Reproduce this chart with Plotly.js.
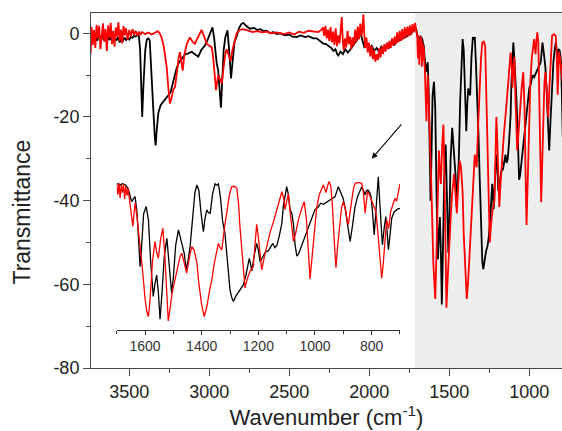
<!DOCTYPE html>
<html>
<head>
<meta charset="utf-8">
<script src="https://cdn.plot.ly/plotly-3.0.1.min.js"></script>
<style>html,body{margin:0;padding:0;background:#fff;}#chart{width:562px;height:431px;}</style>
</head>
<body>
<div id="chart"></div>
<script>
// Black spectrum: [wavenumber (cm-1), transmittance]
const blackSpectrum = [
[3740,-0.3],[3732,-1.2],[3724,0.2],[3716,-1.5],[3708,-0.4],[3700,-1.8],[3690,-0.6],[3680,-1.4],[3670,-0.2],[3660,-1.6],
[3650,-0.8],[3640,-2.0],[3630,-1.0],[3620,-1.6],[3610,-0.7],[3600,-1.9],[3590,-1.1],[3580,-1.7],[3570,-0.9],[3560,-2.2],
[3550,-1.3],[3540,-1.8],[3530,-1.0],[3520,-1.6],[3510,-1.2],[3500,-1.5],[3490,-0.9],[3480,-1.1],[3470,-0.6],[3460,-0.8],
[3450,-0.4],[3440,-0.6],[3432,-4],[3425,-14],[3419,-20],[3412,-13],[3400,-4],[3390,-1.5],[3380,-1.2],[3372,-1.7],
[3362,-8],[3350,-18],[3340,-25],[3335,-26.8],[3328,-23],[3318,-19],[3304,-17.2],[3290,-16.4],[3272,-15.6],[3256,-14.8],
[3241,-14],[3225,-11.5],[3205,-8.5],[3190,-7],[3172,-6],[3150,-5],[3130,-4.8],[3110,-4.4],[3090,-5],[3069,-5.6],
[3050,-4],[3027,-2.9],[3010,-1.5],[2996,0],[2980,1.4],[2970,-1],[2960,-5],[2954,-7],[2944,-9],[2938,-13],
[2932,-17],[2927,-17.8],[2920,-12],[2910,-4],[2900,-1],[2886,0.7],[2876,-4],[2868,-10],[2864,-10.8],[2855,-7],
[2842,-2],[2829,-0.8],[2815,1.2],[2800,2.2],[2787,2.5],[2770,1.8],[2746,1.1],[2720,1.3],[2700,0.8],[2680,1.0],
[2660,0.5],[2641,0.6],[2621,0],[2600,0.3],[2580,-0.2],[2558,0],[2530,-0.5],[2500,-0.3],[2480,-0.8],[2454,-0.9],
[2430,-0.5],[2400,-0.9],[2380,-0.7],[2350,-1.2],[2329,-1.2],[2310,-1.8],[2290,-2.4],[2270,-2.6],[2250,-3.2],[2235,-3.6],
[2225,-4.2],[2212,-3.8],[2200,-5],[2194,-5.3],[2180,-4.4],[2165,-5],[2150,-3.8],[2135,-4.6],[2121,-4],[2105,-3.2],
[2090,-2.2],[2075,-1.5],[2058,0.5],[2045,-1.5],[2030,-3.5],[2015,-2.4],[2000,-3.8],[1985,-3],[1970,-4.2],[1954,-3.5],
[1940,-4.4],[1925,-3.2],[1910,-3.8],[1891,-2.8],[1875,-3.4],[1860,-2.4],[1845,-2.8],[1829,-2],[1810,-1.6],[1790,-1.2],
[1770,-0.9],[1750,-0.4],[1725,0.5],[1708,1.2],
[1700,-0.6],[1690,-1.6],[1680,-0.8],[1670,-1.3],[1660,-3],[1652,-6.5],[1647,-9.3],[1641,-8],[1635,-6.9],[1628,-15],
[1622,-30],[1617.5,-40],[1612,-30],[1605,-15],[1596,-11.6],[1588,-18],[1580,-38],[1571,-54],[1565,-48],[1559,-43.9],
[1553,-52],[1547,-64.8],[1540,-52],[1532,-35],[1523,-26.6],[1515,-38],[1506,-52.5],[1500,-45],[1492,-30],[1482,-22.6],
[1474,-27],[1467,-30.5],[1461,-34],[1455,-41.5],[1448,-37],[1441,-30.5],[1432,-16],[1424,-5],[1417,-1.4],[1410,-4],
[1402,-15],[1394,-23.4],[1388,-17],[1382,-13.2],[1376,-14.5],[1370,-14.8],[1362,-6],[1353,-0.9],[1347,-1.5],[1341,-0.9],
[1334,-7],[1326,-18.7],[1318,-24],[1311,-33.6],[1305,-42],[1300,-51],[1294,-54.5],[1288,-56.4],[1280,-54],[1270,-52],
[1262,-51],[1253,-48.6],[1244,-44],[1238,-40],[1232,-36],[1227,-39],[1223,-42],[1215,-35],[1206,-29],[1200,-32],
[1194,-37.6],[1185,-35.5],[1175,-33],[1165,-32.5],[1158,-31],[1149,-29],[1142,-31],[1135,-30],[1127,-26],[1117,-19.5],
[1112,-11.6],[1106,-6],[1100,-2.2],[1094,-6],[1088,-13],[1082,-14.7],[1076,-20],[1070,-30],[1064,-35],[1058,-34],
[1050,-31],[1035,-26],[1020,-20],[1000,-13],[990,-12],[980,-10],[970,-10.5],[964,-10],[950,-9],[940,-8],
[929,-6.9],[922,-4],[918,-2.2],[912,-4],[906,-6],[900,-8],[893,-13],[885,-20],[876,-28],[868,-21],
[859,-12],[850,-7],[842,-4],[835,-2.2],[829,-4],[823,-6],[818,-4],[813,-3.8],[807,-5],[802,-7],
[797,-14],[791,-25],[785,-14],[780,-2],[776.5,2.5],[772,-8],[767,-20],[762,-29.7],[756,-22],[750,-16.3],
[745,-24],[741,-32],[736,-26],[729,-17],[720,-14],[712,-13],[706,-12.6],[700,-12.6]
];

// Red spectrum: [wavenumber (cm-1), transmittance]
const redSpectrum = [
[3741,-4.9],[3735,1.5],[3728,-2.8],[3720,0.8],[3712,-3.5],[3704,2],[3696,-1.2],[3688,1.8],[3680,-3.8],[3672,0.5],
[3664,2.4],[3656,-2],[3648,1],[3640,-4.2],[3632,1.9],[3624,-1],[3616,2.5],[3608,-2.6],[3600,0.6],[3592,-3.2],
[3584,1.4],[3576,-0.8],[3568,2.6],[3560,-1.8],[3552,0.9],[3544,-2.4],[3536,1.7],[3528,-0.5],[3520,1.2],[3510,-1.5],
[3500,0.8],[3490,-0.8],[3480,1.0],[3470,-0.3],[3460,0.6],[3450,-0.5],[3440,0.4],[3430,-0.4],[3420,0.3],[3400,-0.2],
[3380,0.2],[3360,-0.3],[3340,0.2],[3321,0.5],[3310,0],[3298,-1],[3285,-3],[3274,-5.5],[3266,-8],[3256,-13],
[3246,-16.8],[3236,-15.5],[3225,-13.5],[3214,-12.8],[3200,-8],[3190,-5.5],[3183,-4.5],[3175,-6.5],[3166,-8.9],[3155,-5],
[3140,-2.5],[3121,-1],[3105,-2],[3090,-2.5],[3070,-1],[3048,0.8],[3030,-1],[3016,-2.5],[3000,-3],[2985,-3.3],
[2975,-6],[2965,-11],[2958,-13.6],[2950,-11.5],[2944,-10],[2932,-11],[2922,-12],[2910,-8],[2900,-5],[2891,-3.8],
[2880,-5],[2866,-6.6],[2855,-4],[2840,-1.5],[2829,0],[2810,0.8],[2789,1],[2760,0.7],[2730,0.3],[2700,0.5],
[2670,0.2],[2640,0.4],[2610,0],[2580,0.2],[2558,0],[2530,-0.2],[2500,0.2],[2470,-0.3],[2440,0.4],[2410,0.1],
[2380,0.6],[2350,0.5],[2320,0.3],
[2300,0.8],[2290,1.4],[2282,-0.6],[2274,1.8],[2266,-1.2],[2258,0.9],[2250,-1.8],[2242,1.5],[2234,-2.2],[2226,0.4],
[2218,-2.8],[2210,1.2],[2202,-3.1],[2194,-0.5],[2186,-2.4],[2178,1.0],[2172,3.9],[2166,-1.5],[2160,-4.0],[2152,-1.2],
[2144,-3.4],[2136,0.6],[2128,-2.6],[2120,-0.8],[2112,-3.8],[2104,-1.0],[2096,-2.9],[2088,0.9],[2080,-2.0],[2072,1.6],
[2064,-1.4],[2056,2.3],[2048,-0.6],[2042,1.8],[2037,4.5],[2032,0.2],[2026,-3.5],[2018,-1.0],[2010,-4.6],[2002,-2.2],
[1994,-5.5],[1986,-3.0],[1978,-6.2],[1970,-4.0],[1962,-6.8],[1954,-5.0],[1946,-6.4],[1938,-3.6],[1930,-5.8],[1922,-3.2],
[1914,-5.0],[1906,-2.6],[1898,-4.4],[1890,-2.2],[1882,-3.8],[1874,-1.8],[1866,-3.5],[1858,-1.2],[1850,-3.0],[1842,-0.8],
[1834,-2.6],[1826,0.2],[1818,-2.2],[1810,0.6],[1802,-1.8],[1794,1.0],[1786,-1.4],[1778,1.4],[1770,-1.0],[1762,1.6],
[1754,-0.6],[1746,1.9],[1738,-0.4],[1730,2.2],[1722,0.3],[1714,2.5],[1708,0.8],
[1700,-1],[1696,-6],[1692,-0.5],[1688,-7.5],[1684,-1.5],[1680,-5],[1676,-0.8],[1672,-8],[1668,-2],[1664,-6.5],
[1660,-3],[1656,-7],[1653,-8.5],[1648,-15],[1643,-21],[1639,-15],[1635,-10],[1628,-17],[1622,-24],[1617.5,-29],
[1610,-40],[1600,-55],[1594,-61],[1588,-63.5],[1582,-55],[1574,-38],[1565,-28],[1559,-33],[1553,-36],[1545,-27],
[1537,-21.8],[1530,-35],[1523,-55],[1518,-65.6],[1512,-60],[1504,-52],[1494,-46],[1484,-39],[1476,-35],[1470,-33.6],
[1462,-38],[1453,-43],[1444,-36],[1435,-30.5],[1427,-32],[1417,-38],[1410,-48],[1400,-58],[1391,-63.5],[1382,-59],
[1372,-51],[1364,-46],[1355,-38],[1347,-32],[1341,-29],[1335,-31],[1329,-32],[1320,-22],[1311,-13.2],[1302,-6],
[1294,-2.2],[1285,-2],[1276,-3],[1270,-10],[1265,-21],[1256,-36],[1247,-50],[1240,-46],[1229,-42],[1218,-40],
[1212,-30],[1206,-20],[1200,-26],[1194,-35],[1188,-41.5],[1180,-36],[1170,-30],[1159,-24],[1145,-18],[1130,-11],
[1117,-4.6],[1110,-8],[1106,-13],[1100,-9],[1094,-5.7],[1088,-14],[1082,-22],[1076,-28],[1068,-24],[1059,-18],
[1048,-13],[1038,-9.3],[1030,-18],[1023,-35],[1017.5,-45.8],[1010,-35],[1002,-22],[994,-12],[985,-6],[976,-2.5],
[970.6,-1.4],[966,-3],[961,-5],[956,-2],[950.5,0.2],[944,-2],[938,-12],[932,-28],[926,-40.4],[920,-30],
[912,-18],[906,-12],[900,-9.3],[892,-13],[885,-19],[882,-20],[876,-14],[870,-8],[864,-3],[858,-0.6],
[846,-0.2],[835,-0.6],[829,-5],[823,-14.7],[818,-9],[814.6,-4.4],[808,-6],[800,-9],[791,-12],[785,-14],
[778,-24],[770,-38],[764.5,-45.4],[760,-40],[756,-34],[750,-24],[747,-18],[743,-20],[740,-22],[733,-14],
[725,-10],[718,-7.8],[712,-9],[706,-5],[700,-1]
];

const mainXTickVals = [3500, 3000, 2500, 2000, 1500, 1000];
const mainXTickText = ['3500', '3000', '2500', '2000', '1500', '1000'];
const mainXMinorVals = [3750, 3250, 2750, 2250, 1750, 1250];
const mainYTickVals = [-80, -60, -40, -20, 0];
const mainYTickText = ['-80', '-60', '-40', '-20', '0'];
const mainYMinorVals = [-70, -50, -30, -10];
const insetXTickVals = [1600, 1400, 1200, 1000, 800];
const insetXTickText = ['1600', '1400', '1200', '1000', '800'];
const insetXMinorVals = [1700, 1500, 1300, 1100, 900, 700];
const xTitle = 'Wavenumber (cm<sup>-1</sup>)';
const yTitle = 'Transmittance';

const mainRange = [3739, 796];
const insetRange = [1700, 700];
const shadedFrom = 1714;

const xs = s => s.map(p => p[0]);
const ys = s => s.map(p => p[1]);
const inInset = s => s.filter(p => p[0] <= insetRange[0] && p[0] >= insetRange[1]);

const FONT = '"Liberation Sans", Arial, sans-serif';
const AXC = '#4a4a4a';

const traces = [
  {x: xs(blackSpectrum), y: ys(blackSpectrum), xaxis: 'x', yaxis: 'y', mode: 'lines',
   line: {color: '#000000', width: 1.8}, hoverinfo: 'skip'},
  {x: xs(redSpectrum), y: ys(redSpectrum), xaxis: 'x', yaxis: 'y', mode: 'lines',
   line: {color: '#ff0000', width: 1.8}, hoverinfo: 'skip'},
  {x: xs(inInset(blackSpectrum)), y: ys(inInset(blackSpectrum)), xaxis: 'x2', yaxis: 'y2', mode: 'lines',
   line: {color: '#000000', width: 1.3}, hoverinfo: 'skip'},
  {x: xs(inInset(redSpectrum)), y: ys(inInset(redSpectrum)), xaxis: 'x2', yaxis: 'y2', mode: 'lines',
   line: {color: '#ff0000', width: 1.3}, hoverinfo: 'skip'}
];

const layout = {
  width: 562, height: 431,
  margin: {l: 91, r: 0, t: 13, b: 63},
  paper_bgcolor: '#ffffff', plot_bgcolor: '#ffffff',
  showlegend: false,
  font: {family: FONT, color: '#222222'},
  xaxis: {
    domain: [0, 1], anchor: 'y', range: mainRange, autorange: false,
    showline: true, linecolor: AXC, linewidth: 1, mirror: true,
    ticks: 'outside', ticklen: 7, tickwidth: 1, tickcolor: AXC,
    tickmode: 'array', tickvals: mainXTickVals, ticktext: mainXTickText,
    tickfont: {family: FONT, size: 18, color: '#222222'},
    minor: {tickmode: 'array', tickvals: mainXMinorVals, ticks: 'outside', ticklen: 4, tickcolor: AXC, showgrid: false},
    showgrid: false, zeroline: false,
    title: {text: xTitle, font: {family: FONT, size: 22, color: '#222222'}, standoff: 6}
  },
  yaxis: {
    domain: [0, 1], anchor: 'x', range: [-80, 4.85], autorange: false,
    showline: true, linecolor: AXC, linewidth: 1,
    ticks: 'outside', ticklen: 7, tickwidth: 1, tickcolor: AXC,
    tickmode: 'array', tickvals: mainYTickVals, ticktext: mainYTickText,
    tickfont: {family: FONT, size: 18, color: '#222222'},
    minor: {tickmode: 'array', tickvals: mainYMinorVals, ticks: 'outside', ticklen: 4, tickcolor: AXC, showgrid: false},
    showgrid: false, zeroline: false
  },
  xaxis2: {
    domain: [0.0546, 0.656], anchor: 'y2', range: insetRange, autorange: false,
    showline: true, linecolor: '#333333', linewidth: 1,
    ticks: 'outside', ticklen: 4, tickwidth: 1, tickcolor: '#333333',
    tickmode: 'array', tickvals: insetXTickVals, ticktext: insetXTickText,
    tickfont: {family: FONT, size: 14, color: '#333333'},
    minor: {tickmode: 'array', tickvals: insetXMinorVals, ticks: 'outside', ticklen: 3, tickcolor: '#333333', showgrid: false},
    showgrid: false, zeroline: false
  },
  yaxis2: {
    domain: [0.1079, 0.552], anchor: 'x2', range: [-69.7, 4.7], autorange: false,
    visible: false, showgrid: false, zeroline: false
  },
  shapes: [
    {type: 'rect', xref: 'x', yref: 'paper', x0: shadedFrom, x1: mainRange[1], y0: 0, y1: 1,
     fillcolor: '#eeeeee', line: {width: 0}, layer: 'below'}
  ],
  annotations: [
    {xref: 'paper', yref: 'paper', x: -0.147, y: 0.44, xanchor: 'center', yanchor: 'middle',
     text: yTitle, textangle: -90, showarrow: false, font: {family: FONT, size: 23, color: '#222222'}},
    {xref: 'x', yref: 'y', x: 1985, y: -30, ax: 31, ay: -36, text: '', showarrow: true,
     arrowhead: 2, arrowsize: 1, arrowwidth: 1.2, arrowcolor: '#111111'}
  ]
};

Plotly.newPlot('chart', traces, layout, {displayModeBar: false, staticPlot: true});
</script>
</body>
</html>
